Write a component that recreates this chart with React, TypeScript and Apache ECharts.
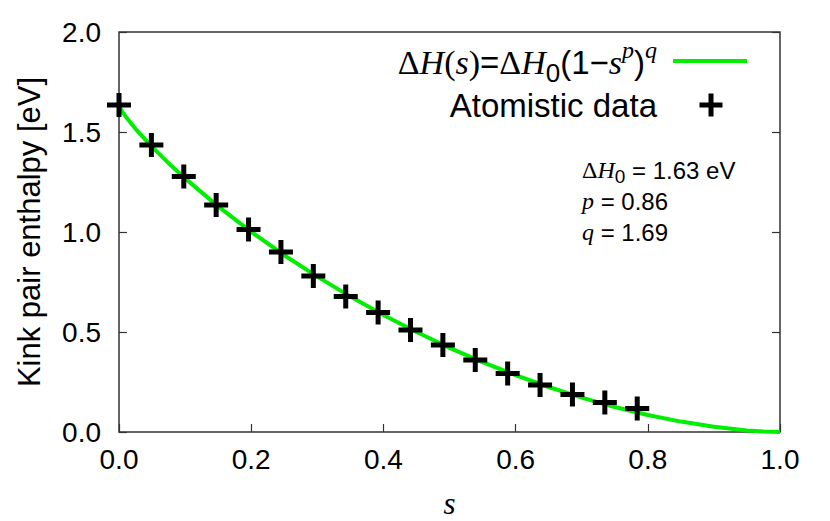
import React, { useEffect, useRef } from "react";
import * as echarts from "echarts";

// Fitted curve ΔH(s)
const sCurve = [0, 0.005, 0.01, 0.025, 0.05, 0.075, 0.1, 0.15, 0.2, 0.25, 0.3, 0.35, 0.4, 0.45, 0.5, 0.55, 0.6, 0.65, 0.7, 0.75, 0.8, 0.85, 0.9, 0.95, 0.975, 1.0];
const hCurve = [1.63, 1.601, 1.578, 1.516, 1.426, 1.344, 1.268, 1.128, 1.001, 0.884, 0.777, 0.677, 0.585, 0.5, 0.421, 0.349, 0.284, 0.225, 0.172, 0.125, 0.085, 0.052, 0.026, 0.008, 0.0025, 0.0];

// Atomistic data points
const sData = [0, 0.049, 0.098, 0.147, 0.196, 0.245, 0.294, 0.343, 0.392, 0.441, 0.49, 0.539, 0.588, 0.637, 0.686, 0.735, 0.784];
const hData = [1.635, 1.435, 1.277, 1.135, 1.013, 0.9, 0.78, 0.677, 0.597, 0.51, 0.435, 0.36, 0.293, 0.235, 0.188, 0.147, 0.118];

const xTicks = [0, 0.2, 0.4, 0.6, 0.8, 1.0];
const yTicks = [0, 0.5, 1.0, 1.5, 2.0];

const SANS = "'Liberation Sans', Arial, Helvetica, sans-serif";
const SERIF = "'Liberation Serif', 'Times New Roman', serif";
const GREEN = "#00ee00";
const AXIS = "#333333";
const PLUS = "path://M9.5,0h5v9.5h9.5v5h-9.5v9.5h-5v-9.5h-9.5v-5h9.5z";

export default function App() {
  const ref = useRef<HTMLDivElement>(null);

  useEffect(() => {
    document.body.style.margin = "0";
    const chart = echarts.init(ref.current!, null, { renderer: "svg" });

    const tickLabel = {
      color: "#000",
      fontFamily: SANS,
      fontSize: 28,
      formatter: (v: number) => v.toFixed(1),
    };

    const F = 33; // legend font
    const LH = 48;
    const richFormula = {
      d: { fontFamily: SERIF, fontSize: F + 1, color: "#000", lineHeight: LH },
      i: { fontFamily: SERIF, fontStyle: "italic", fontSize: F + 1, color: "#000", lineHeight: LH },
      n: { fontFamily: SANS, fontSize: F, color: "#000", lineHeight: LH },
      sub: { fontFamily: SANS, fontSize: 26, color: "#000", verticalAlign: "bottom", lineHeight: LH },
      sup: { fontFamily: SERIF, fontStyle: "italic", fontSize: 24, color: "#000", verticalAlign: "top", lineHeight: LH },
    };
    const P = 24; // parameter font
    const richParam = {
      d: { fontFamily: SERIF, fontSize: P, color: "#000", lineHeight: 32 },
      i: { fontFamily: SERIF, fontStyle: "italic", fontSize: P, color: "#000", lineHeight: 32 },
      n: { fontFamily: SANS, fontSize: P, color: "#000", lineHeight: 32 },
      sub: { fontFamily: SANS, fontSize: 19, color: "#000", verticalAlign: "bottom", lineHeight: 32 },
    };

    chart.setOption({
      animation: false,
      backgroundColor: "#fff",
      grid: {
        left: 119,
        right: 50,
        top: 32,
        bottom: 89,
        outerBoundsMode: "none",
        containLabel: false,
        show: true,
        borderColor: AXIS,
        borderWidth: 1.5,
        backgroundColor: "transparent",
      },
      xAxis: {
        type: "value",
        min: xTicks[0],
        max: xTicks[xTicks.length - 1],
        interval: 0.2,
        name: "s",
        nameLocation: "middle",
        nameGap: 56,
        nameTextStyle: { fontFamily: SERIF, fontStyle: "italic", fontSize: 31, color: "#000" },
        axisLine: { show: false },
        axisTick: { show: true, inside: true, length: 8, lineStyle: { color: AXIS, width: 1.2 } },
        axisLabel: { ...tickLabel, margin: 13 },
        splitLine: { show: false },
      },
      yAxis: [
        {
          type: "value",
          min: yTicks[0],
          max: yTicks[yTicks.length - 1],
          interval: 0.5,
          name: "Kink pair enthalpy [eV]",
          nameLocation: "middle",
          nameGap: 74,
          nameTextStyle: { fontFamily: SANS, fontSize: 31, color: "#000" },
          axisLine: { show: false },
          axisTick: { show: true, inside: true, length: 8, lineStyle: { color: AXIS, width: 1.2 } },
          axisLabel: { ...tickLabel, margin: 18 },
          splitLine: { show: false },
        },
        {
          type: "value",
          position: "right",
          min: yTicks[0],
          max: yTicks[yTicks.length - 1],
          interval: 0.5,
          axisLine: { show: false },
          axisTick: { show: true, inside: true, length: 8, lineStyle: { color: AXIS, width: 1.2 } },
          axisLabel: { show: false },
          splitLine: { show: false },
        },
      ],
      series: [
        {
          type: "line",
          data: sCurve.map((s, k) => [s, hCurve[k]]),
          showSymbol: false,
          smooth: false,
          lineStyle: { color: GREEN, width: 4 },
          z: 2,
        },
        {
          type: "scatter",
          data: sData.map((s, k) => [s, hData[k]]),
          symbol: PLUS,
          symbolSize: 24,
          itemStyle: { color: "#000", opacity: 1 },
          z: 3,
        },
      ],
      graphic: [
        {
          type: "text",
          x: 657,
          y: 62,
          style: {
            text: "{d|Δ}{i|H}{d|(}{i|s}{d|)}{n|=}{d|Δ}{i|H}{sub|0}{n|(1−}{i|s}{sup|p}{n|)}{sup|q}",
            rich: richFormula,
            align: "right",
            verticalAlign: "middle",
          },
        },
        {
          type: "line",
          shape: { x1: 673, y1: 61, x2: 747, y2: 61 },
          style: { stroke: GREEN, lineWidth: 4 },
        },
        {
          type: "text",
          x: 657,
          y: 105,
          style: {
            text: "Atomistic data",
            fontFamily: SANS,
            fontSize: 33,
            fill: "#000",
            align: "right",
            verticalAlign: "middle",
          },
        },
        {
          type: "polygon",
          x: 711,
          y: 105,
          shape: {
            points: [
              [-2.5, -11.5], [2.5, -11.5], [2.5, -2.5], [11.5, -2.5], [11.5, 2.5], [2.5, 2.5],
              [2.5, 11.5], [-2.5, 11.5], [-2.5, 2.5], [-11.5, 2.5], [-11.5, -2.5], [-2.5, -2.5],
            ],
          },
          style: { fill: "#000" },
        },
        {
          type: "text",
          x: 582,
          y: 170,
          style: {
            text: "{d|Δ}{i|H}{sub|0}{n| = 1.63 eV}",
            rich: richParam,
            align: "left",
            verticalAlign: "middle",
          },
        },
        {
          type: "text",
          x: 582,
          y: 201,
          style: {
            text: "{i|p}{n| = 0.86}",
            rich: richParam,
            align: "left",
            verticalAlign: "middle",
          },
        },
        {
          type: "text",
          x: 582,
          y: 232,
          style: {
            text: "{i|q}{n| = 1.69}",
            rich: richParam,
            align: "left",
            verticalAlign: "middle",
          },
        },
      ],
    });

    return () => chart.dispose();
  }, []);

  return <div ref={ref} style={{ width: 830, height: 521 }} />;
}
